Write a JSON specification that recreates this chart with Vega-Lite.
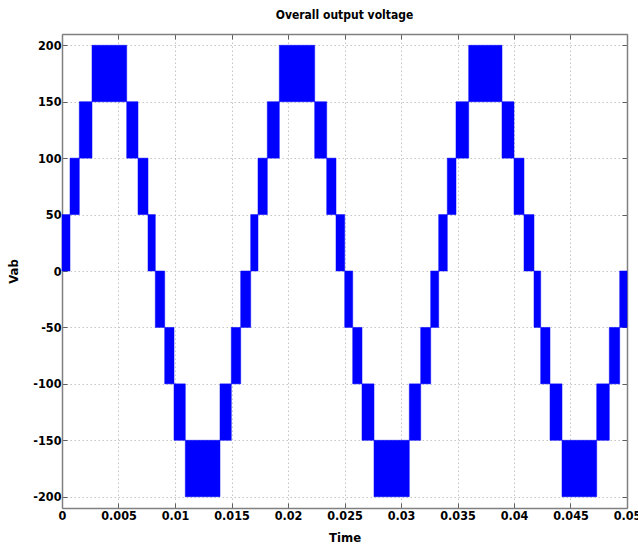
{
  "$schema": "https://vega.github.io/schema/vega-lite/v6.json",
  "autosize": "none",
  "width": 565,
  "height": 474,
  "padding": {"left": 62, "top": 34, "right": 11, "bottom": 44},
  "background": "white",
  "title": {"text": "Overall output voltage", "font": "DejaVu Sans Condensed", "fontSize": 12, "fontWeight": "bold", "color": "black", "anchor": "middle", "offset": 12},
  "config": {
    "view": {"stroke": null},
    "axis": {"labelFont": "DejaVu Sans Condensed", "labelFontSize": 12.5, "labelFontWeight": "bold", "labelColor": "black", "titleFont": "DejaVu Sans Condensed", "titleFontSize": 13, "titleFontWeight": "bold", "titleColor": "black", "domainColor": "#808080", "domainWidth": 1.5, "tickColor": "#606060", "tickSize": -5, "gridColor": "#c4c4c4", "gridDash": [1.5, 2.5], "gridWidth": 1}
  },
  "data": {"values": [
    {"t0": 0, "t1": 0.000708, "lo": 0, "hi": 50},
    {"t0": 0.000708, "t1": 0.001531, "lo": 50, "hi": 100},
    {"t0": 0.001531, "t1": 0.002655, "lo": 100, "hi": 150},
    {"t0": 0.002655, "t1": 0.005726, "lo": 150, "hi": 200},
    {"t0": 0.005726, "t1": 0.006726, "lo": 100, "hi": 150},
    {"t0": 0.006726, "t1": 0.007611, "lo": 50, "hi": 100},
    {"t0": 0.007611, "t1": 0.008257, "lo": 0, "hi": 50},
    {"t0": 0.008257, "t1": 0.009088, "lo": -50, "hi": 0},
    {"t0": 0.009088, "t1": 0.009912, "lo": -100, "hi": -50},
    {"t0": 0.009912, "t1": 0.010912, "lo": -150, "hi": -100},
    {"t0": 0.010912, "t1": 0.013982, "lo": -200, "hi": -150},
    {"t0": 0.013982, "t1": 0.014982, "lo": -150, "hi": -100},
    {"t0": 0.014982, "t1": 0.015814, "lo": -100, "hi": -50},
    {"t0": 0.015814, "t1": 0.016699, "lo": -50, "hi": 0},
    {"t0": 0.016699, "t1": 0.017345, "lo": 0, "hi": 50},
    {"t0": 0.017345, "t1": 0.018168, "lo": 50, "hi": 100},
    {"t0": 0.018168, "t1": 0.019230, "lo": 100, "hi": 150},
    {"t0": 0.019230, "t1": 0.022363, "lo": 150, "hi": 200},
    {"t0": 0.022363, "t1": 0.023425, "lo": 100, "hi": 150},
    {"t0": 0.023425, "t1": 0.024248, "lo": 50, "hi": 100},
    {"t0": 0.024248, "t1": 0.025018, "lo": 0, "hi": 50},
    {"t0": 0.025018, "t1": 0.025726, "lo": -50, "hi": 0},
    {"t0": 0.025726, "t1": 0.026549, "lo": -100, "hi": -50},
    {"t0": 0.026549, "t1": 0.027611, "lo": -150, "hi": -100},
    {"t0": 0.027611, "t1": 0.030735, "lo": -200, "hi": -150},
    {"t0": 0.030735, "t1": 0.031743, "lo": -150, "hi": -100},
    {"t0": 0.031743, "t1": 0.032628, "lo": -100, "hi": -50},
    {"t0": 0.032628, "t1": 0.033336, "lo": -50, "hi": 0},
    {"t0": 0.033336, "t1": 0.034097, "lo": 0, "hi": 50},
    {"t0": 0.034097, "t1": 0.034867, "lo": 50, "hi": 100},
    {"t0": 0.034867, "t1": 0.035991, "lo": 100, "hi": 150},
    {"t0": 0.035991, "t1": 0.038938, "lo": 150, "hi": 200},
    {"t0": 0.038938, "t1": 0.040000, "lo": 100, "hi": 150},
    {"t0": 0.040000, "t1": 0.040885, "lo": 50, "hi": 100},
    {"t0": 0.040885, "t1": 0.041770, "lo": 0, "hi": 50},
    {"t0": 0.041770, "t1": 0.042363, "lo": -50, "hi": 0},
    {"t0": 0.042363, "t1": 0.043186, "lo": -100, "hi": -50},
    {"t0": 0.043186, "t1": 0.044248, "lo": -150, "hi": -100},
    {"t0": 0.044248, "t1": 0.047319, "lo": -200, "hi": -150},
    {"t0": 0.047319, "t1": 0.048434, "lo": -150, "hi": -100},
    {"t0": 0.048434, "t1": 0.049354, "lo": -100, "hi": -50},
    {"t0": 0.049354, "t1": 0.05, "lo": -50, "hi": 0}
  ]},
  "layer": [
    {
      "mark": {"type": "rect", "color": "#0000ff", "stroke": "#0000ff", "strokeWidth": 0.5},
      "encoding": {
        "x": {"field": "t0", "type": "quantitative", "scale": {"domain": [0, 0.05], "nice": false, "zero": false},
              "axis": {"orient": "bottom", "title": "Time", "values": [0, 0.005, 0.01, 0.015, 0.02, 0.025, 0.03, 0.035, 0.04, 0.045, 0.05], "format": ".3~f", "labelPadding": 6, "titlePadding": 10, "labelFlush": false}},
        "x2": {"field": "t1"},
        "y": {"field": "lo", "type": "quantitative", "scale": {"domain": [-210, 210], "nice": false, "zero": false},
              "axis": {"orient": "left", "title": "Vab", "values": [-200, -150, -100, -50, 0, 50, 100, 150, 200], "labelExpr": "'' + datum.value", "labelPadding": 6, "titlePadding": 12}},
        "y2": {"field": "hi"}
      }
    },
    {
      "mark": {"type": "rect", "color": "#0000ff", "opacity": 0},
      "encoding": {
        "x": {"field": "t0", "type": "quantitative", "axis": {"orient": "top", "title": null, "labels": false, "grid": false, "values": [0, 0.005, 0.01, 0.015, 0.02, 0.025, 0.03, 0.035, 0.04, 0.045, 0.05]}},
        "x2": {"field": "t1"},
        "y": {"field": "lo", "type": "quantitative", "axis": {"orient": "right", "title": null, "labels": false, "grid": false, "values": [-200, -150, -100, -50, 0, 50, 100, 150, 200]}},
        "y2": {"field": "hi"}
      }
    }
  ],
  "resolve": {"axis": {"x": "independent", "y": "independent"}}
}
